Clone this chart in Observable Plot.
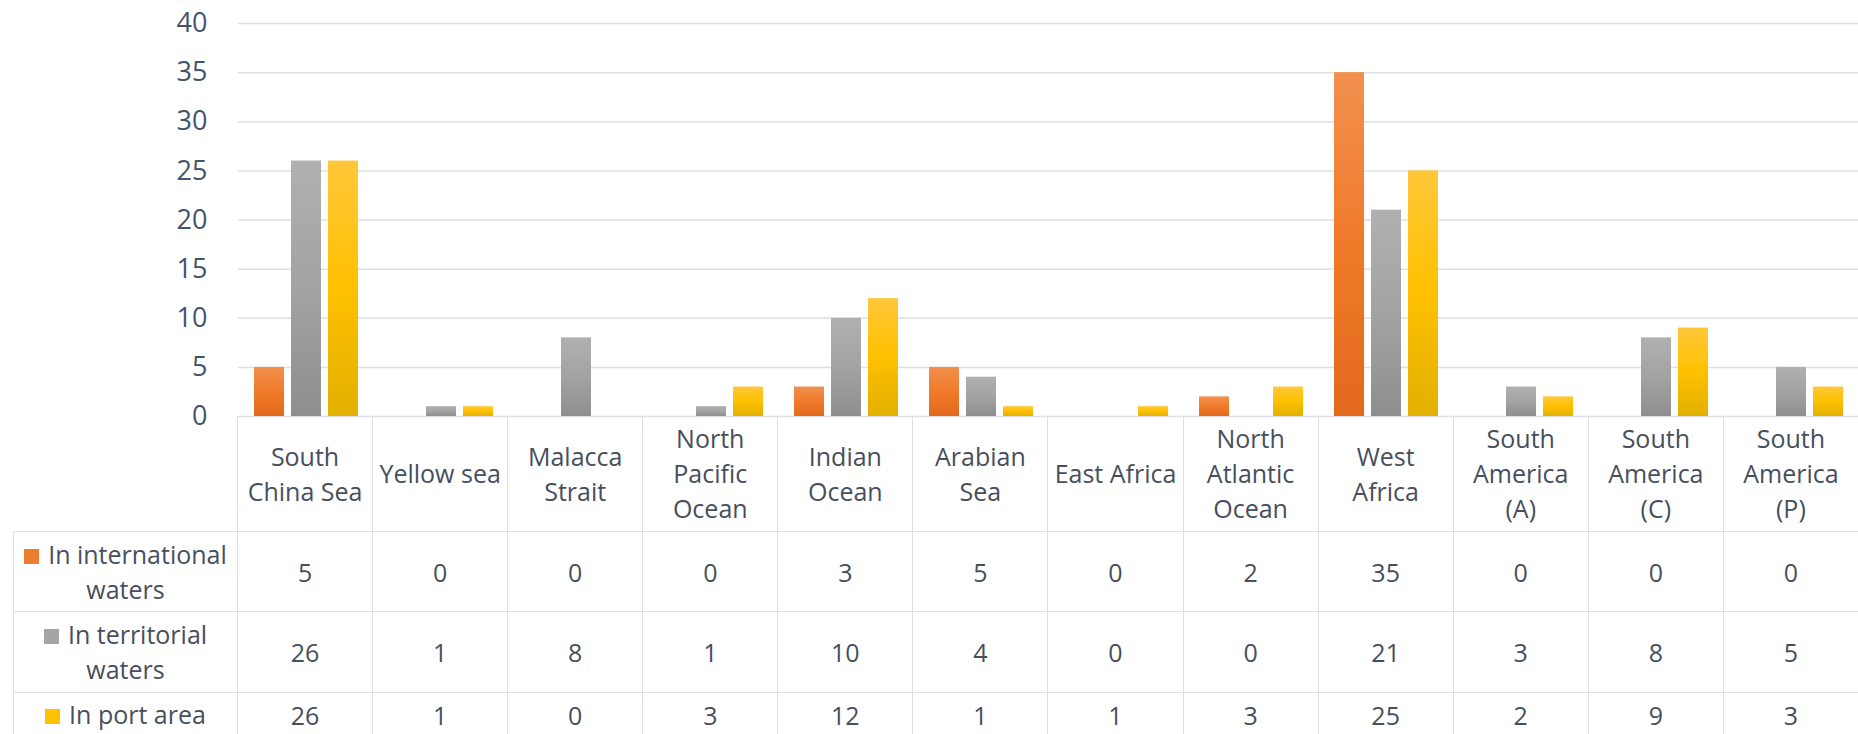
<!DOCTYPE html>
<html>
<head>
<meta charset="utf-8">
<script src="https://cdn.jsdelivr.net/npm/d3@7"></script>
<script src="https://cdn.jsdelivr.net/npm/@observablehq/plot@0.6"></script>
<style>
  html, body { margin: 0; padding: 0; background: #fff; width: 1858px; height: 734px; overflow: hidden; }
  #wrap { position: relative; width: 1858px; height: 734px; }
  #chart { position: absolute; left: 0; top: 0; }
  #chart svg text { font-size: 27px; font-family: "Open Sans", sans-serif; }
  table.dt { position: absolute; left: 13px; top: 416px; border-collapse: collapse; table-layout: fixed;
    font-family: "Open Sans", sans-serif; font-size: 25px; color: #474f5e; }
  table.dt td { border: 1.5px solid #dcdfe3; text-align: center; vertical-align: middle; padding: 0; white-space: pre-line; }
  table.dt tr.head td { height: 115px; line-height: 35px; border-top: none; }
  table.dt tr.head td.blank { border: none; }
  table.dt td.leg { line-height: 35px; }
  table.dt .sw { display: inline-block; width: 15px; height: 15px; margin-right: 9px; vertical-align: 0px; }
</style>
</head>
<body>
<div id="wrap"><div id="chart"></div></div>
<script>
const categories = ["South China Sea", "Yellow sea", "Malacca Strait", "North Pacific Ocean", "Indian Ocean", "Arabian Sea", "East Africa", "North Atlantic Ocean", "West Africa", "South America (A)", "South America (C)", "South America (P)"];
const categoryLabels = ["South\nChina Sea", "Yellow sea", "Malacca\nStrait", "North\nPacific\nOcean", "Indian\nOcean", "Arabian\nSea", "East Africa", "North\nAtlantic\nOcean", "West\nAfrica", "South\nAmerica\n(A)", "South\nAmerica\n(C)", "South\nAmerica\n(P)"];
const series = ["In international waters", "In territorial waters", "In port area"];
const seriesLabels = ["In international\nwaters", "In territorial\nwaters", "In port area"];
const international = [5, 0, 0, 0, 3, 5, 0, 2, 35, 0, 0, 0];
const territorial = [26, 1, 8, 1, 10, 4, 0, 0, 21, 3, 8, 5];
const port = [26, 1, 0, 3, 12, 1, 1, 3, 25, 2, 9, 3];
const yTicks = [0, 5, 10, 15, 20, 25, 30, 35, 40];
const swatchColors = ["#ED7D31", "#A5A5A5", "#FFC000"];
const gradients = [
  ["gOrange", ["#F2904F", "#F07A2A", "#E3691C"]],
  ["gGray", ["#B0B0B0", "#A3A3A3", "#8E8E8E"]],
  ["gYellow", ["#FFC83A", "#FFC000", "#E2B000"]]
];

const valuesBySeries = [international, territorial, port];
const data = [];
categories.forEach((c, i) => series.forEach((s, j) => data.push({category: c, series: s, value: valuesBySeries[j][i]})));

const chart = Plot.plot({
  width: 1858,
  height: 440,
  marginTop: 23,
  marginBottom: 24,
  marginLeft: 237,
  marginRight: 0,
  style: {fontFamily: "Open Sans, sans-serif", fontSize: "27px", color: "#44546a", background: "transparent", overflow: "visible"},
  fx: {domain: categories, axis: null, padding: 0},
  x: {domain: series, axis: null, paddingInner: 0.2, paddingOuter: 0.4},
  y: {domain: [0, 40], ticks: yTicks, tickSize: 0, tickPadding: 31, label: null},
  color: {domain: series, range: gradients.map(g => `url(#${g[0]})`)},
  marks: [
    Plot.ruleY(yTicks, {stroke: "#dde0e5", strokeWidth: 1.5}),
    Plot.barY(data, {fx: "category", x: "series", y: "value", fill: "series"})
  ]
});

// gradient definitions
const svg = d3.select(chart);
const defs = svg.insert("defs", ":first-child");
gradients.forEach(([id, stops]) => {
  const g = defs.append("linearGradient").attr("id", id).attr("x1", 0).attr("y1", 0).attr("x2", 0).attr("y2", 1);
  stops.forEach((c, k) => g.append("stop").attr("offset", k / (stops.length - 1)).attr("stop-color", c));
});

document.getElementById("chart").appendChild(chart);

// data table below
const colW = (1858 - 237) / categories.length;
const table = d3.select("#wrap").append("table").attr("class", "dt")
  .style("width", (224 + colW * categories.length) + "px");
const cg = table.append("colgroup");
cg.append("col").style("width", "224px");
categories.forEach(() => cg.append("col").style("width", colW + "px"));
const head = table.append("tr").attr("class", "head");
head.append("td").attr("class", "blank");
categoryLabels.forEach(l => head.append("td").text(l));
const rowHeights = [80, 81, 44];
series.forEach((s, j) => {
  const tr = table.append("tr").style("height", rowHeights[j] + "px");
  const td = tr.append("td").attr("class", "leg");
  const lines = seriesLabels[j].split("\n");
  td.append("span").attr("class", "sw").style("background", swatchColors[j]);
  td.append("span").text(lines[0]);
  if (lines[1]) { td.append("br"); td.append("span").text(lines[1]); }
  valuesBySeries[j].forEach(v => tr.append("td").text(v));
});
</script>
</body>
</html>
